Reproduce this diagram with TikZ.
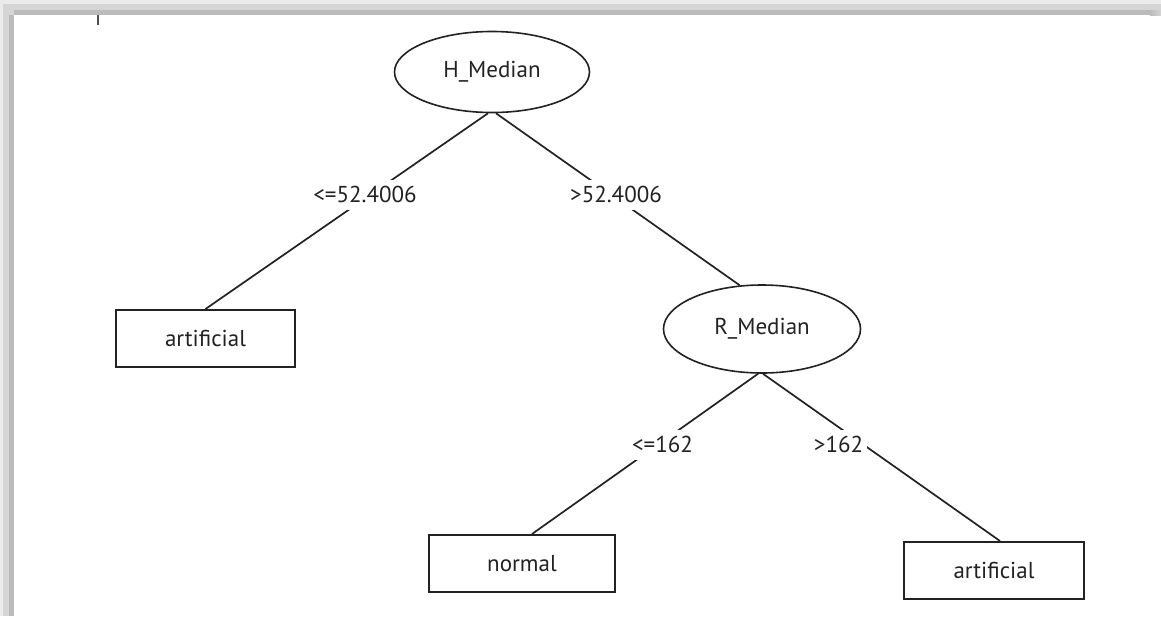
\documentclass[tikz,border=0pt]{standalone}
\usepackage{fontspec}
\setmainfont{PT Sans}
\usetikzlibrary{shapes.geometric}
\definecolor{ink}{HTML}{222222}
\definecolor{bandA}{HTML}{EBEBEB}
\definecolor{bandB}{HTML}{D5D5D5}
\definecolor{bandC}{HTML}{BBBBBB}
\begin{document}
\begin{tikzpicture}[x=1pt,y=-1pt,
  txt/.style={font=\fontsize{23}{27}\selectfont,text=ink},
  split/.style={ellipse,draw=ink,line width=1.6pt,inner sep=0pt,txt},
  leaf/.style={rectangle,draw=ink,line width=2pt,inner sep=0pt,minimum height=57pt,txt},
  cond/.style={fill=white,inner sep=4pt,text height=18pt,text depth=4pt,anchor=base,txt},
  branch/.style={draw=ink,line width=1.7pt}]
\useasboundingbox (0,0) rectangle (1161,616);
\fill[white] (0,0) rectangle (1161,616);
% frame shadow
\fill[bandA] (0,0) rectangle (1161,4);
\fill[bandB] (0,4) rectangle (1161,10);
\fill[bandC] (14,10) rectangle (1150,15);
\shade[left color=bandC,right color=bandB] (1150,10) rectangle (1161,15);
\fill[bandA] (0,4) rectangle (3,616);
\fill[bandB] (3,10) rectangle (9,616);
\fill[bandC] (9,15) rectangle (14,616);
\fill[bandB] (9,10) rectangle (14,15);
% small tick
\draw[ink!80,line width=2pt] (98,15) -- (98,25);
% nodes
\node[split,minimum width=195pt,minimum height=81pt] (H) at (492,72) {H\_Median};
\node[split,minimum width=197pt,minimum height=88pt] (R) at (762,329) {R\_Median};
\node[leaf,minimum width=179pt] (A1) at (205.5,338.5) {artificial};
\node[leaf,minimum width=186pt] (N) at (522,563.5) {normal};
\node[leaf,minimum width=180pt] (A2) at (994,570.5) {artificial};
% branches
\draw[branch] ([xshift=-4pt]H.south) -- (A1.north);
\draw[branch] ([xshift=4pt]H.south) -- (R.117);
\draw[branch] ([xshift=-4pt]R.south) -- ([xshift=10pt]N.north);
\draw[branch] ([xshift=1pt]R.south) -- ([xshift=6pt]A2.north);
% conditions
\node[cond] (c1) at (365,202) {<=52.4006};
\node[cond] (c2) at (616,202) {>52.4006};
\node[cond] (c3) at (662.5,452) {<=162};
\node[cond] (c4) at (838.5,452) {>162};
\end{tikzpicture}
\end{document}
